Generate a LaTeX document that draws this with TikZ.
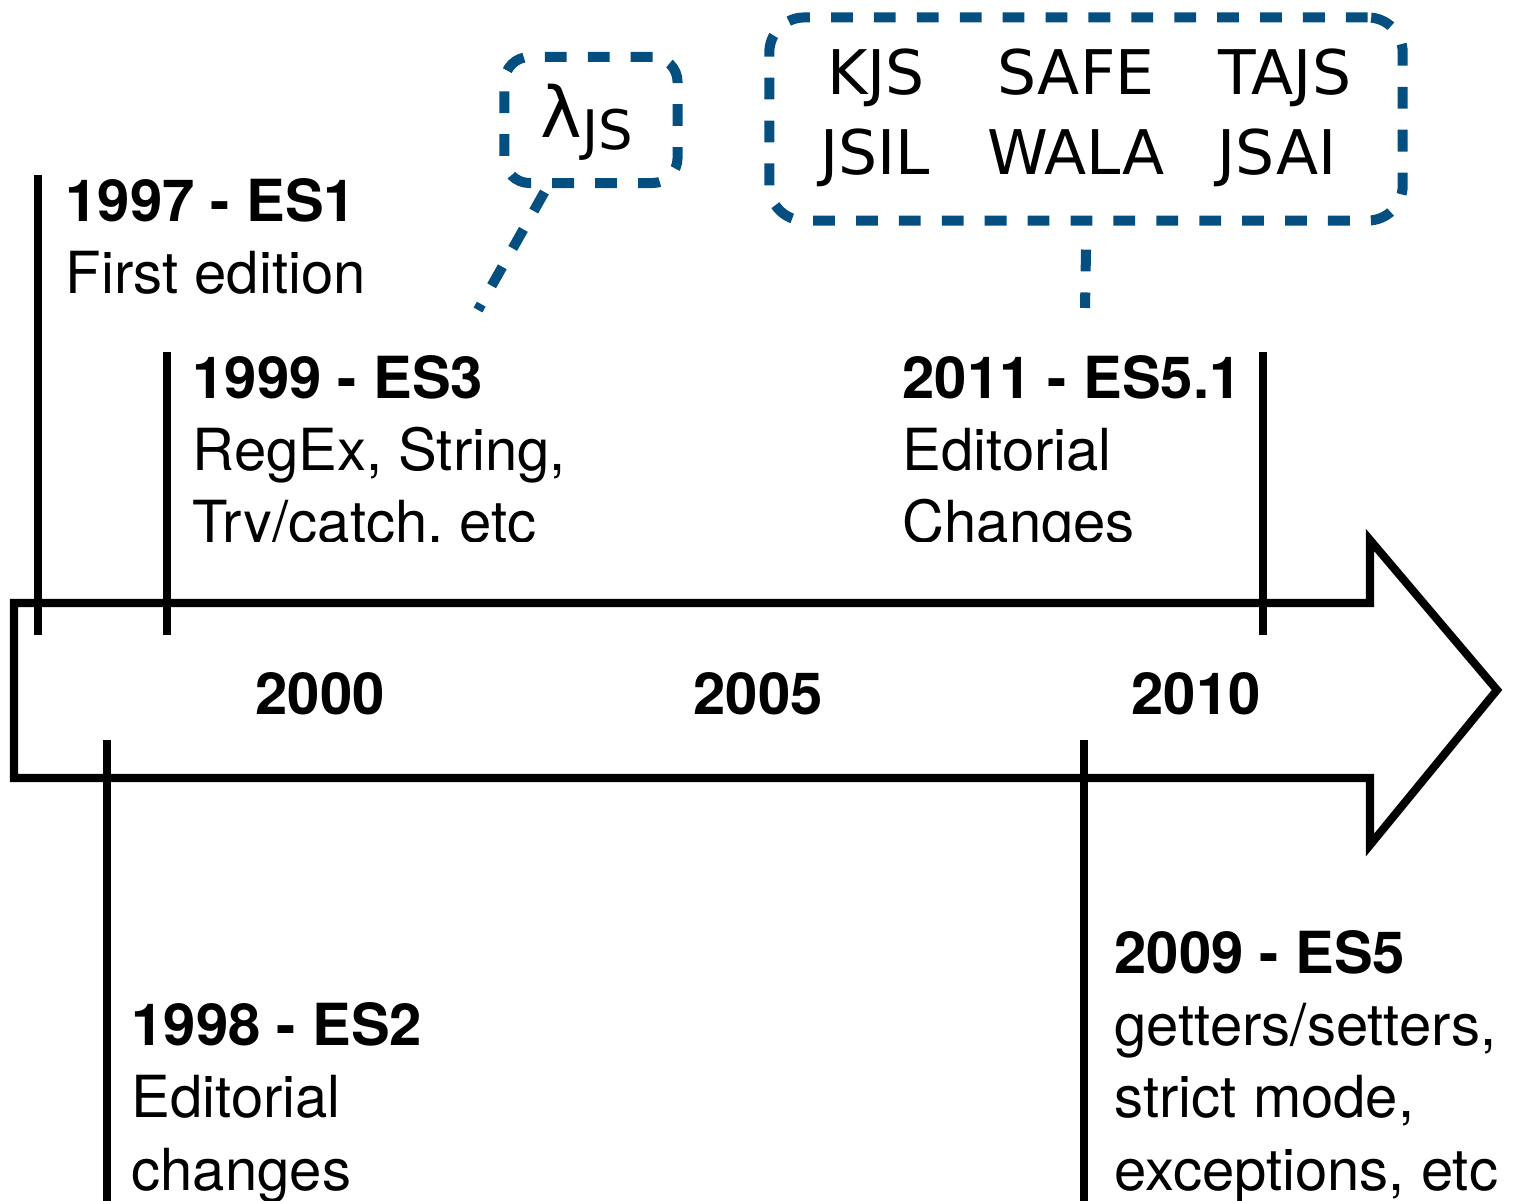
\documentclass[tikz,border=0pt]{standalone}
\usepackage{fontspec}
\setmainfont{TeX Gyre Heros}
\newfontfamily\toolfont{DejaVu Sans}
\usepackage{tikz}
\usetikzlibrary{positioning}
\definecolor{tlblue}{RGB}{4,78,128}

\begin{document}
\begin{tikzpicture}[
x=0.01cm,
y=-0.01cm,
timeline/.style={
draw,
line width=2.3pt,
line join=miter,
fill=white
},
tick/.style={
line width=2.3pt
},
eventtext/.style={
anchor=base west,
inner sep=0pt,
align=left,
font=\fontsize{16.5}{20.5}\selectfont
},
yearlabel/.style={
inner sep=0pt,
font=\fontsize{16.5}{20.5}\selectfont\bfseries
},
toolbox/.style={
draw=tlblue,
line width=2.85pt,
dash pattern=on 6.2pt off 6pt,
inner sep=0pt
},
pointer/.style={
draw=tlblue,
line width=2.85pt,
dash pattern=on 6.2pt off 6pt
},
tooltag/.style={
anchor=base,
inner sep=0pt,
font=\toolfont\fontsize{17.5}{20}\selectfont
}
]

\useasboundingbox (0,0) rectangle (1519,1201);

%%%%%%%%%%%%%%%%%%%%%%%%%%%%%%%%%%%%
% Timeline Arrow
%%%%%%%%%%%%%%%%%%%%%%%%%%%%%%%%%%%%

\draw[timeline] (14,603) -- (1370,603) -- (1370,540) -- (1497,690)
-- (1370,845) -- (1370,778) -- (14,778) -- cycle;

\node[yearlabel] (y2000) at (320,694) {2000};
\node[yearlabel] (y2005) at (758,694) {2005};
\node[yearlabel] (y2010) at (1196,694) {2010};

%%%%%%%%%%%%%%%%%%%%%%%%%%%%%%%%%%%%
% Ticks
%%%%%%%%%%%%%%%%%%%%%%%%%%%%%%%%%%%%

\coordinate (es1top) at (38,175);
\coordinate (es1bot) at (38,635);
\coordinate (es3top) at (167,352);
\coordinate (es3bot) at (167,635);
\coordinate (es51top) at (1263,352);
\coordinate (es51bot) at (1263,635);
\coordinate (es2top) at (107,740);
\coordinate (es2bot) at (107,1201);
\coordinate (es5top) at (1084,740);
\coordinate (es5bot) at (1084,1201);

\draw[tick] (es1top)--(es1bot);

\draw[tick] (es3top)--(es3bot);

\draw[tick] (es51top)--(es51bot);

\draw[tick] (es2top)--(es2bot);

\draw[tick] (es5top)--(es5bot);

%%%%%%%%%%%%%%%%%%%%%%%%%%%%%%%%%%%%
% Editions (placed at last baseline)
%%%%%%%%%%%%%%%%%%%%%%%%%%%%%%%%%%%%

\node[eventtext] (es1) at (65,294)
{\textbf{1997 - ES1}\\First edition};

\begin{scope}
\clip (0,0) rectangle (1519,542);
\node[eventtext] (es3) at (192,543)
{\textbf{1999 - ES3}\\RegEx, String,\\Try/catch, etc};
\node[eventtext] (es51) at (902,543)
{\textbf{2011 - ES5.1}\\Editorial\\Changes};
\end{scope}

\node[eventtext] (es2) at (131,1190)
{\textbf{1998 - ES2}\\Editorial\\changes};

\node[eventtext] (es5) at (1114,1190)
{\textbf{2009 - ES5}\\getters/setters,\\strict mode,\\exceptions, etc};

%%%%%%%%%%%%%%%%%%%%%%%%%%%%%%%%%%%%
% Formalisations and Tools
%%%%%%%%%%%%%%%%%%%%%%%%%%%%%%%%%%%%

\node[toolbox,rounded corners=0.25cm,minimum width=1.73cm,minimum height=1.26cm]
(lambda) at (591,120) {};
\node[anchor=base west,inner sep=0pt] (lambdajs) at (540,138)
{\toolfont\fontsize{20}{22}\selectfont λ\raisebox{-0.12cm}{\fontsize{15.5}{16}\selectfont JS}};

\node[toolbox,rounded corners=0.35cm,minimum width=6.33cm,minimum height=2.03cm]
(tools) at (1086,119) {};

\node[tooltag] (kjs) at (876,95) {KJS};
\node[tooltag] (safe) at (1076,95) {SAFE};
\node[tooltag] (tajs) at (1285,95) {TAJS};
\node[tooltag] (jsil) at (875,175) {JSIL};
\node[tooltag] (wala) at (1076,175) {WALA};
\node[tooltag] (jsai) at (1277,175) {JSAI};

\coordinate (lambdatip) at (478,310);
\coordinate (toolstip) at (1085,308);

\draw[pointer] (lambda.south west) ++(45,4) -- (lambdatip);

\draw[pointer] (tools.south) ++(0,24) -- (toolstip);

\end{tikzpicture}
\end{document}
